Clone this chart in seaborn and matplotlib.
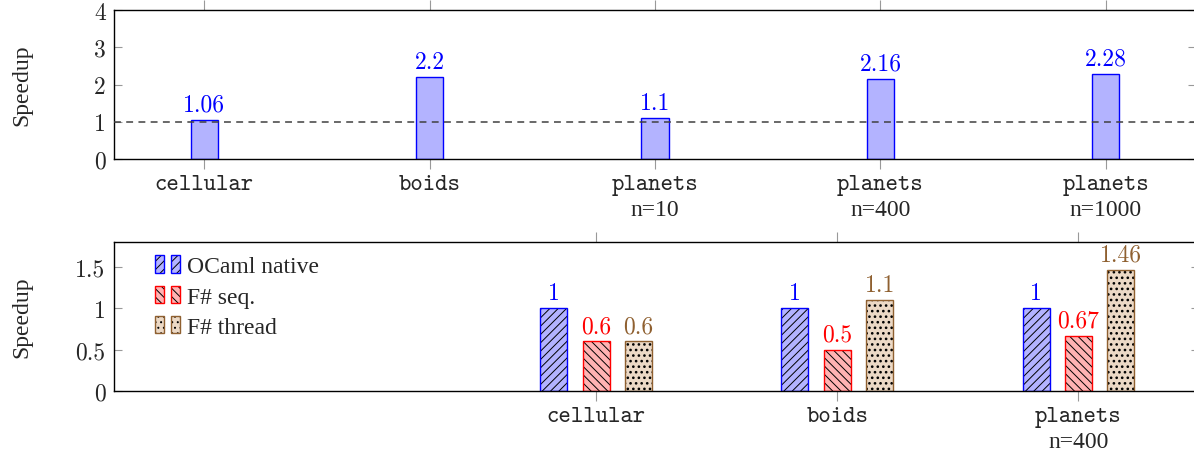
import numpy as np
import pandas as pd
import matplotlib
matplotlib.use("Agg")
import matplotlib.pyplot as plt
from matplotlib.patches import Rectangle
from matplotlib.legend_handler import HandlerTuple
import seaborn as sns

# top panel data
top_bench = ["cellular", "boids", "planets", "planets", "planets"]
top_size = ["", "", "n=10", "n=400", "n=1000"]
top_speedup = [1.06, 2.2, 1.1, 2.16, 2.28]
top_yticks = [0, 1, 2, 3, 4]

# bottom panel data
bot_bench = ["cellular", "boids", "planets"]
bot_size = ["", "", "n=400"]
impls = ["OCaml native", "F# seq.", "F# thread"]
ocaml_native = [1, 1, 1]
fs_seq = [0.6, 0.5, 0.67]
fs_thread = [0.6, 1.1, 1.46]
bot_yticks = [0, 0.5, 1, 1.5]

edge_cols = ["#0000ff", "#ff0000", "#8f6030"]
fill_cols = ["#b3b3ff", "#ffb3b3", "#ecd9c6"]
hatches = ["////", "\\\\\\\\", "..."]
hatch_lw = [0.7, 0.7, 1.1]

sns.set_style("white")
plt.rcParams["font.family"] = ["Liberation Serif", "DejaVu Serif"]
plt.rcParams["hatch.linewidth"] = 0.7
TT = "cmtt10"
CM = "cmr10"
RM = "Liberation Serif"
FS = 17

fig = plt.figure(figsize=(11.94, 4.56), dpi=100)
ax1 = fig.add_axes([114/1194, 1-160/456, 1082/1194, 149/456])
ax2 = fig.add_axes([114/1194, 1-392/456, 1085/1194, 149/456])

# top: single series
top_keys = [b + " " + s for b, s in zip(top_bench, top_size)]
sns.barplot(x=top_keys, y=top_speedup, ax=ax1, width=0.12, color=fill_cols[0],
            edgecolor=edge_cols[0], linewidth=1, saturation=1, errorbar=None, zorder=2)
ax1.axhline(1, color="#404040", lw=1.1, dashes=(4.5, 3.5), zorder=3)
ax1.bar_label(ax1.containers[0], labels=[f"{v:g}" for v in top_speedup],
              color=edge_cols[0], fontfamily=CM, fontsize=FS, padding=3)

# bottom: grouped, hatched
bot_keys = [b + " " + s for b, s in zip(bot_bench, bot_size)]
df = pd.DataFrame({
    "bench": bot_keys * 3,
    "impl": [impls[0]] * 3 + [impls[1]] * 3 + [impls[2]] * 3,
    "speedup": ocaml_native + fs_seq + fs_thread,
})
sns.barplot(data=df, x="bench", y="speedup", hue="impl", hue_order=impls,
            palette=fill_cols, width=0.528, gap=0.364, saturation=1,
            errorbar=None, legend=False, ax=ax2)
vals = [ocaml_native, fs_seq, fs_thread]
for i, cont in enumerate(ax2.containers):
    with plt.rc_context({"hatch.linewidth": hatch_lw[i]}):
        for p in cont:
            ax2.add_patch(Rectangle(p.get_xy(), p.get_width(), p.get_height(),
                                    facecolor=fill_cols[i], edgecolor="black",
                                    hatch=hatches[i], lw=0, zorder=2))
            p.set_facecolor("none")
            p.set_edgecolor(edge_cols[i])
            p.set_linewidth(1)
            p.set_zorder(2.5)
    ax2.bar_label(cont, labels=[f"{v:g}" for v in vals[i]], color=edge_cols[i],
                  fontfamily=CM, fontsize=FS, padding=3)


def swatch(i):
    with plt.rc_context({"hatch.linewidth": hatch_lw[i]}):
        base = Rectangle((0, 0), 1, 1, facecolor=fill_cols[i], edgecolor="black",
                         hatch=hatches[i], lw=0)
    edge = Rectangle((0, 0), 1, 1, facecolor="none", edgecolor=edge_cols[i], lw=1)
    return (base, edge)


handles = [(swatch(i), swatch(i)) for i in range(3)]
ax2.legend(handles, impls, handler_map={h: HandlerTuple(ndivide=None, pad=0.3) for h in handles},
           loc="upper left", bbox_to_anchor=(0.038, 0.91), frameon=False,
           borderpad=0, borderaxespad=0, handlelength=1.06, handleheight=0.75,
           handletextpad=0.3, labelspacing=0.36, prop=dict(family=RM, size=FS))

# axes styling
panels = [(ax1, top_bench, top_size, top_yticks, (-0.4, 4.4), (0, 4)),
          (ax2, bot_bench, bot_size, bot_yticks, (-2, 2.5), (0, 1.8))]
for ax, bench, size, yt, xl, yl in panels:
    ax.set_xlim(*xl)
    ax.set_ylim(*yl)
    ax.set_xticks(range(len(bench)))
    ax.set_xticklabels(bench, fontfamily=TT, fontsize=FS)
    ax.set_yticks(yt)
    ax.set_yticklabels([f"{v:g}" for v in yt], fontfamily=CM, fontsize=FS)
    ax.tick_params(axis="x", direction="out", top=True, bottom=True, length=7.5,
                   width=0.8, color="#999999", pad=3)
    ax.tick_params(axis="y", direction="in", left=True, right=True, length=6,
                   width=0.8, color="#999999", pad=6)
    for s in ax.spines.values():
        s.set_color("black")
        s.set_linewidth(1.0)
    for i, s in enumerate(size):
        if s:
            ax.annotate(s, xy=(i, 0), xycoords=ax.get_xaxis_transform(),
                        xytext=(0, -29), textcoords="offset points",
                        ha="center", va="top", fontfamily=RM, fontsize=FS)
    ax.set_xlabel("")
    ax.set_ylabel("Speedup", fontfamily=RM, fontsize=FS)
    ax.yaxis.set_label_coords(-0.075, 0.5)

fig.savefig("out.png", dpi=100)
